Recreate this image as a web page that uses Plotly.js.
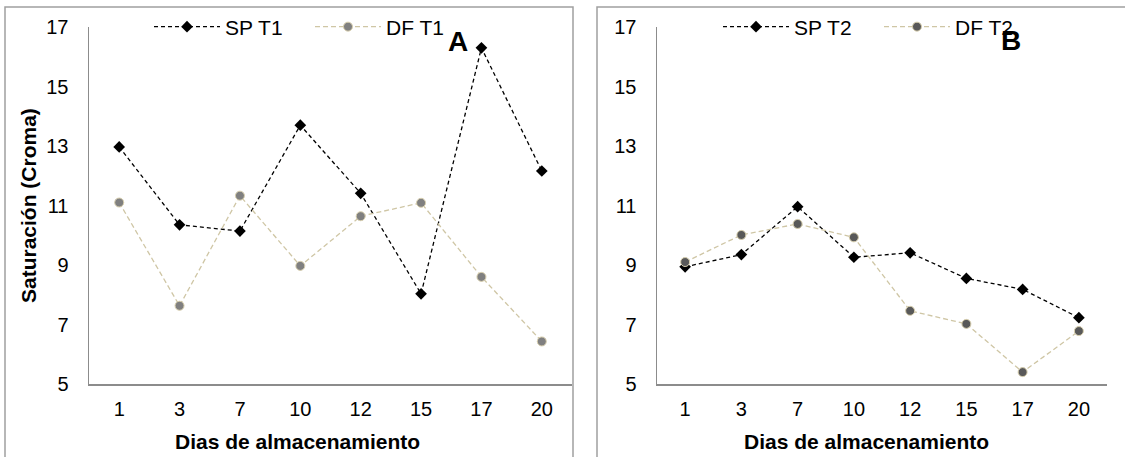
<!DOCTYPE html>
<html>
<head>
<meta charset="utf-8">
<script src="https://cdn.plot.ly/plotly-3.0.1.min.js"></script>
<style>
  html, body { margin: 0; padding: 0; background: #ffffff; }
  #chart { width: 1125px; height: 457px; }
</style>
</head>
<body>
<div id="chart"></div>
<script>
// ---- data ----
const days = ["1", "3", "7", "10", "12", "15", "17", "20"];
const spT1 = [12.97, 10.35, 10.14, 13.70, 11.41, 8.03, 16.30, 12.16];
const dfT1 = [11.10, 7.63, 11.33, 8.97, 10.64, 11.09, 8.60, 6.43];
const spT2 = [8.94, 9.35, 10.96, 9.26, 9.41, 8.55, 8.18, 7.23];
const dfT2 = [9.10, 10.01, 10.38, 9.93, 7.46, 7.02, 5.40, 6.78];
const seriesNames = ["SP T1", "DF T1", "SP T2", "DF T2"];
const yTicks = [5, 7, 9, 11, 13, 15, 17];
const xTitle = "Dias de almacenamiento";
const yTitle = "Saturación (Croma)";
const panelLabels = ["A", "B"];

// ---- pixel helpers (page is 1125 x 457, margins 0) ----
const W = 1125, H = 457;
const px = v => v / W;
const py = v => 1 - v / H;

const FONT = "Liberation Sans, Arial, sans-serif";
const spLine = { color: "#000000", width: 1.3, dash: "4px,3px" };
const dfLine = { color: "#cfc6a5", width: 1.3, dash: "5px,3px" };

const traces = [
  { x: days, y: spT1, name: seriesNames[0], type: "scatter", mode: "lines+markers",
    xaxis: "x", yaxis: "y", legend: "legend",
    line: spLine, marker: { symbol: "diamond", size: 9, color: "#000000" } },
  { x: days, y: dfT1, name: seriesNames[1], type: "scatter", mode: "lines+markers",
    xaxis: "x", yaxis: "y", legend: "legend",
    line: dfLine, marker: { symbol: "circle", size: 9, color: "#808080", line: { color: "#d8cfae", width: 1 } } },
  { x: days, y: spT2, name: seriesNames[2], type: "scatter", mode: "lines+markers",
    xaxis: "x2", yaxis: "y2", legend: "legend2",
    line: spLine, marker: { symbol: "diamond", size: 9, color: "#000000" } },
  { x: days, y: dfT2, name: seriesNames[3], type: "scatter", mode: "lines+markers",
    xaxis: "x2", yaxis: "y2", legend: "legend2",
    line: dfLine, marker: { symbol: "circle", size: 9, color: "#595959", line: { color: "#d8cfae", width: 1 } } }
];

const axisLine = "#8c8c8c";
function xAx(domain) {
  return {
    domain: domain, type: "category", range: [-0.5, 7.5],
    showline: true, linecolor: axisLine, linewidth: 1.5,
    showgrid: false, zeroline: false,
    ticks: "outside", ticklen: 6, tickcolor: "rgba(0,0,0,0)",
    tickfont: { family: FONT, size: 20, color: "#000" },
    fixedrange: true
  };
}
function yAx(domain, anchor) {
  return {
    domain: domain, anchor: anchor, range: [5, 17],
    tickvals: yTicks,
    showline: true, linecolor: axisLine, linewidth: 1.5,
    showgrid: false, zeroline: false,
    ticks: "outside", ticklen: 15, tickcolor: "rgba(0,0,0,0)",
    tickfont: { family: FONT, size: 20, color: "#000" },
    fixedrange: true
  };
}

const yDom = [py(384), py(27)];

const legendCommon = {
  orientation: "h", xanchor: "left", yanchor: "middle",
  bgcolor: "rgba(0,0,0,0)", borderwidth: 0,
  font: { family: FONT, size: 21, color: "#000" },
  itemwidth: 66, entrywidth: 80, traceorder: "normal"
};

const layout = {
  width: W, height: H,
  margin: { l: 0, r: 0, t: 0, b: 0, pad: 0 },
  paper_bgcolor: "#ffffff", plot_bgcolor: "rgba(0,0,0,0)",
  showlegend: true,
  xaxis: Object.assign(xAx([px(89), px(572)]), { anchor: "y" }),
  yaxis: yAx(yDom, "x"),
  xaxis2: Object.assign(xAx([px(657), px(1107)]), { anchor: "y2" }),
  yaxis2: yAx(yDom, "x2"),
  legend: Object.assign({}, legendCommon, { x: px(149), y: py(27) }),
  legend2: Object.assign({}, legendCommon, { x: px(718), y: py(27) }),
  shapes: [
    { type: "rect", xref: "paper", yref: "paper", x0: px(5), x1: px(573), y0: py(480), y1: py(7),
      line: { color: "#a0a0a0", width: 1.5 }, fillcolor: "rgba(0,0,0,0)", layer: "below" },
    { type: "rect", xref: "paper", yref: "paper", x0: px(597), x1: px(1140), y0: py(480), y1: py(7),
      line: { color: "#a0a0a0", width: 1.5 }, fillcolor: "rgba(0,0,0,0)", layer: "below" }
  ],
  annotations: [
    { text: yTitle, xref: "paper", yref: "paper", x: px(28), y: py(206), textangle: -90,
      showarrow: false, xanchor: "center", yanchor: "middle",
      font: { family: FONT, size: 21, color: "#000", weight: "bold" } },
    { text: xTitle, xref: "paper", yref: "paper", x: px(297), y: py(441),
      showarrow: false, xanchor: "center", yanchor: "middle",
      font: { family: FONT, size: 21, color: "#000", weight: "bold" } },
    { text: xTitle, xref: "paper", yref: "paper", x: px(866), y: py(441),
      showarrow: false, xanchor: "center", yanchor: "middle",
      font: { family: FONT, size: 21, color: "#000", weight: "bold" } },
    { text: panelLabels[0], xref: "paper", yref: "paper", x: px(458), y: py(42),
      showarrow: false, xanchor: "center", yanchor: "middle",
      font: { family: FONT, size: 28, color: "#000", weight: "bold" } },
    { text: panelLabels[1], xref: "paper", yref: "paper", x: px(1011), y: py(40),
      showarrow: false, xanchor: "center", yanchor: "middle",
      font: { family: FONT, size: 28, color: "#000", weight: "bold" } }
  ]
};

Plotly.newPlot("chart", traces, layout, { staticPlot: true, displayModeBar: false });
</script>
</body>
</html>
